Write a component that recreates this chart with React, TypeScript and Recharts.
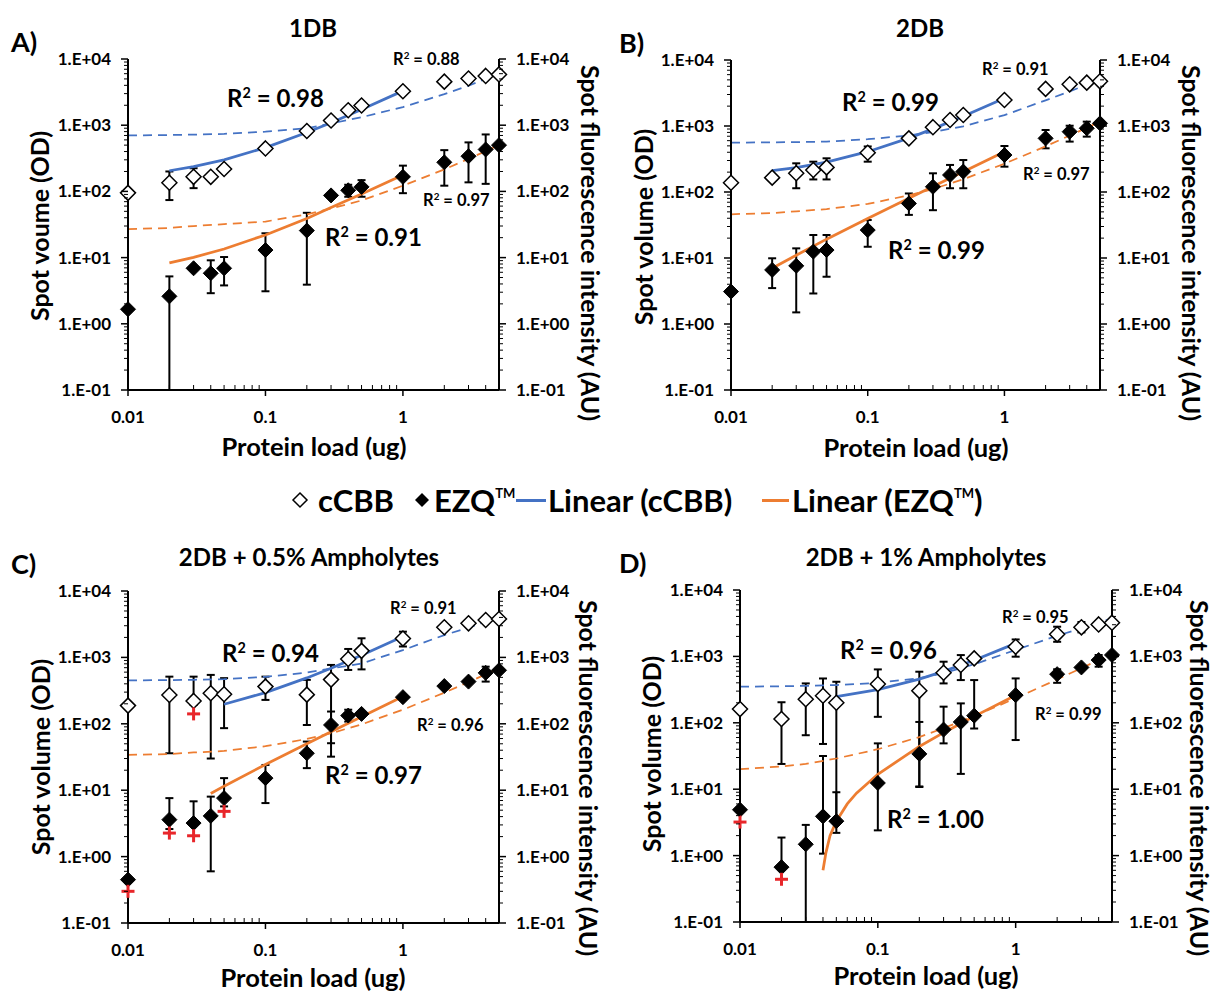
import React from 'react';
import { ComposedChart, Scatter, Line, XAxis, YAxis, ErrorBar } from 'recharts';

const FONT = "Lato, 'Open Sans', sans-serif";
const BLUE = '#4472C4';
const ORANGE = '#ED7D31';

// protein load (ug) for every spot series
const LOAD = [0.01, 0.02, 0.03, 0.04, 0.05, 0.1, 0.2, 0.3, 0.4, 0.5, 1, 2, 3, 4, 5];

// ---- A) 1DB
const A_CBB = [95, 135, 166, 166, 218, 446, 816, 1180, 1680, 1980, 3250, 4550, 5080, 5550, 5850];
const A_CBB_LO = [95, 74, 112, 166, 218, 446, 816, 1180, 1680, 1980, 3250, 4550, 5080, 5550, 5850];
const A_CBB_HI = [95, 200, 224, 166, 218, 446, 816, 1180, 1680, 1980, 3250, 4550, 5080, 5550, 5850];
const A_EZQ = [1.66, 2.6, 6.9, 5.8, 6.9, 13, 25.6, 87, 104, 117, 166, 275, 340, 430, 500];
const A_EZQ_LO = [1.66, 0.1, 6.9, 2.9, 3.8, 3.1, 3.9, 87, 83, 83, 94, 122, 137, 130, 500];
const A_EZQ_HI = [1.66, 5.2, 6.9, 9.1, 10.2, 23.3, 47.5, 87, 126, 148, 245, 420, 550, 725, 500];

// ---- B) 2DB
const B_CBB = [138, 165, 192, 215, 236, 394, 650, 960, 1233, 1468, 2478, 3650, 4280, 4540, 4750];
const B_CBB_LO = [138, 165, 114, 155, 155, 288, 650, 960, 1233, 1468, 2478, 3650, 4280, 4540, 4750];
const B_CBB_HI = [138, 165, 272, 288, 324, 490, 650, 960, 1233, 1468, 2478, 3650, 4280, 4540, 4750];
const B_EZQ = [3.1, 6.6, 7.6, 12.5, 13.2, 26.5, 67, 120, 181, 204, 363, 650, 820, 923, 1097];
const B_EZQ_LO = [3.1, 3.5, 1.5, 2.9, 5.2, 14.8, 45, 53, 114, 114, 242, 459, 580, 690, 1097];
const B_EZQ_HI = [3.1, 9.9, 14, 22.3, 22.3, 37.6, 95, 192, 257, 305, 498, 870, 1010, 1164, 1097];

// ---- C) 2DB + 0.5% Ampholytes
const C_CBB = [188, 272, 221, 288, 279, 363, 275, 463, 948, 1255, 1920, 2840, 3260, 3650, 3780];
const C_CBB_LO = [188, 36, 193, 30, 86, 229, 96, 32, 647, 660, 1460, 2840, 3260, 3650, 3780];
const C_CBB_HI = [188, 513, 513, 545, 487, 513, 459, 770, 1340, 1940, 2440, 2840, 3260, 3650, 3780];
const C_EZQ = [0.45, 3.6, 3.2, 4.1, 7.6, 15.2, 36, 96, 133, 141, 252, 370, 432, 585, 640];
const C_EZQ_LO = [0.45, 2.6, 3.2, 0.6, 5.7, 6.4, 21.5, 51, 108, 141, 252, 370, 432, 432, 640];
const C_EZQ_HI = [0.45, 7.6, 6.8, 8.0, 15.2, 24, 54, 153, 163, 141, 252, 370, 432, 725, 640];
const C_RED_X = [0.01, 0.02, 0.03, 0.03, 0.05];
const C_RED = [0.3, 2.26, 2.06, 141, 4.8];

// ---- D) 2DB + 1% Ampholytes
const D_CBB = [161, 114, 227, 255, 200, 383, 303, 567, 741, 933, 1400, 2150, 2740, 3030, 3220];
const D_CBB_LO = [161, 24, 65, 48, 3.4, 123, 11, 392, 440, 933, 990, 1660, 2300, 3030, 3220];
const D_CBB_HI = [161, 204, 392, 465, 415, 637, 588, 832, 1047, 933, 1800, 2800, 3300, 3030, 3220];
const D_EZQ = [4.9, 0.67, 1.48, 3.9, 3.3, 12.4, 34, 79, 103, 128, 261, 540, 682, 881, 1050];
const D_EZQ_LO = [4.9, 0.67, 0.1, 1.07, 2.2, 2.4, 10.8, 49, 17, 82, 55, 400, 682, 700, 1050];
const D_EZQ_HI = [4.9, 1.87, 2.9, 31.6, 9, 49, 103, 175, 196, 440, 466, 640, 682, 1050, 1050];
const D_RED_X = [0.01, 0.02];
const D_RED = [3.2, 0.44];

// ---- trendlines (dashed: all loads, solid: up to 1 ug)
const DASH_X = [0.01, 0.02, 0.03, 0.05, 0.1, 0.2, 0.3, 0.5, 1, 2, 3, 4, 5];
const A_BLUE_DASH = [700, 710, 720, 740, 800, 900, 1060, 1320, 1880, 2950, 3950, 5000, 6000];
const A_ORANGE_DASH = [27, 28, 30, 32, 35, 45, 55, 73, 122, 215, 310, 405, 500];
const B_BLUE_DASH = [560, 565, 570, 580, 630, 720, 810, 990, 1460, 2450, 3350, 4200, 5000];
const B_ORANGE_DASH = [46, 48, 51, 55, 66, 89, 111, 156, 268, 492, 716, 940, 1164];
const C_BLUE_DASH = [450, 455, 460, 470, 510, 590, 680, 810, 1290, 2170, 2800, 3450, 4100];
const C_ORANGE_DASH = [34, 35, 37, 39, 46, 59, 72, 98, 163, 294, 425, 556, 686];
const D_BLUE_DASH = [350, 355, 360, 370, 400, 470, 560, 760, 1250, 2050, 2650, 3200, 3750];
const D_ORANGE_DASH = [20, 22, 24, 29, 40, 61, 83, 126, 234, 450, 666, 882, 1100];

const SOLID_X = [0.02, 0.03, 0.05, 0.1, 0.2, 0.3, 0.5, 1];
const A_BLUE_SOLID = [205, 237, 300, 458, 774, 1090, 1720, 3300];
const A_ORANGE_SOLID = [8.3, 10.1, 13.5, 22, 39, 57, 91, 177];
const B_BLUE_SOLID = [210, 234, 284, 408, 656, 904, 1400, 2640];
const B_ORANGE_SOLID = [7.0, 11, 19.3, 39.7, 80.6, 121, 203, 408];
const C_BLUE_X = [0.05, 0.1, 0.2, 0.3, 0.5, 1];
const C_BLUE_SOLID = [197, 295, 491, 687, 1080, 2060];
const C_ORANGE_X = [0.04, 0.05, 0.1, 0.2, 0.3, 0.5, 1];
const C_ORANGE_SOLID = [8.9, 11.5, 24.4, 50, 76, 128, 257];
const D_BLUE_X = [0.05, 0.1, 0.2, 0.3, 0.5, 1];
const D_BLUE_SOLID = [247, 316, 455, 595, 873, 1570];
const D_ORANGE_X = [0.04, 0.042, 0.045, 0.05, 0.06, 0.07, 0.1, 0.2, 0.3, 0.5, 1];
const D_ORANGE_SOLID = [0.6, 1.1, 2.0, 3.3, 6.0, 8.7, 16.8, 44, 71, 125, 260];

// axis ticks
const X_MAJOR = [0.01, 0.1, 1];
const X_MINOR = [0.02, 0.03, 0.04, 0.05, 0.06, 0.07, 0.08, 0.09, 0.2, 0.3, 0.4, 0.5, 0.6, 0.7, 0.8, 0.9, 2, 3, 4, 5];
const Y_MAJOR = [0.1, 1, 10, 100, 1000, 10000];
const Y_MULT = [2, 3, 4, 5, 6, 7, 8, 9];
const Y_MINOR = Y_MAJOR.slice(0, -1).flatMap((m) => Y_MULT.map((k) => m * k));
const X_TICKS = [...X_MAJOR, ...X_MINOR].sort((a, b) => a - b);
const Y_TICKS = [...Y_MAJOR, ...Y_MINOR].sort((a, b) => a - b);

const isMajor = (v: number) => Math.abs(Math.log10(v) - Math.round(Math.log10(v))) < 1e-6;
const sci = (v: number) => {
  const e = Math.round(Math.log10(v));
  return `1.E${e < 0 ? '-' : '+'}${String(Math.abs(e)).padStart(2, '0')}`;
};

const points = (xs: number[], ys: number[]) => xs.map((x, i) => ({ x, y: ys[i] }));
const withErr = (ys: number[], lo: number[], hi: number[]) =>
  LOAD.map((x, i) => ({ x, y: ys[i], err: [ys[i] - lo[i], hi[i] - ys[i]] }));

const TICK_FS = 17;

const LeftTick = ({ x, y, payload }: any) => {
  const major = isMajor(payload.value);
  return (
    <g>
      <line x1={x - (major ? 7 : 4)} x2={x} y1={y} y2={y} stroke="#000" strokeWidth={major ? 1.5 : 1} />
      {major && (
        <text x={x - 17} y={y} dy={6} textAnchor="end" fontSize={TICK_FS} fontWeight={700} fontFamily={FONT} fill="#000">
          {sci(payload.value)}
        </text>
      )}
    </g>
  );
};

const RightTick = ({ x, y, payload }: any) => {
  const major = isMajor(payload.value);
  return (
    <g>
      <line x1={x} x2={x + (major ? 7 : 4)} y1={y} y2={y} stroke="#000" strokeWidth={major ? 1.5 : 1} />
      {major && (
        <text x={x + 17} y={y} dy={6} textAnchor="start" fontSize={TICK_FS} fontWeight={700} fontFamily={FONT} fill="#000">
          {sci(payload.value)}
        </text>
      )}
    </g>
  );
};

const BottomTick = ({ x, y, payload }: any) => {
  const major = X_MAJOR.includes(payload.value);
  return (
    <g>
      {major ? (
        <line x1={x} x2={x} y1={y} y2={y + 6} stroke="#000" strokeWidth={1.5} />
      ) : (
        <line x1={x} x2={x} y1={y - 5} y2={y} stroke="#000" strokeWidth={1} />
      )}
      {major && (
        <text x={x} y={y + 33} textAnchor="middle" fontSize={TICK_FS} fontWeight={700} fontFamily={FONT} fill="#000">
          {String(payload.value)}
        </text>
      )}
    </g>
  );
};

const OpenDiamond = ({ cx, cy }: any) => (
  <polygon points={`${cx},${cy - 7.5} ${cx + 7.5},${cy} ${cx},${cy + 7.5} ${cx - 7.5},${cy}`} fill="#fff" stroke="#000" strokeWidth={1.5} />
);
const FilledDiamond = ({ cx, cy }: any) => (
  <polygon points={`${cx},${cy - 7.5} ${cx + 7.5},${cy} ${cx},${cy + 7.5} ${cx - 7.5},${cy}`} fill="#000" stroke="#000" strokeWidth={1} />
);
const RedCross = ({ cx, cy }: any) => (
  <g stroke="#E8262A" strokeWidth={3}>
    <line x1={cx - 6.5} x2={cx + 6.5} y1={cy} y2={cy} />
    <line x1={cx} x2={cx} y1={cy - 6.5} y2={cy + 6.5} />
  </g>
);

type Rect = { l: number; t: number; r: number; b: number };

type PanelProps = {
  rect: Rect;
  cbb: any[];
  ezq: any[];
  blueDash: any[];
  orangeDash: any[];
  blueSolid: any[];
  orangeSolid: any[];
  red?: any[];
};

const axisLine = { stroke: '#000', strokeWidth: 2 };

function Panel({ rect, cbb, ezq, blueDash, orangeDash, blueSolid, orangeSolid, red }: PanelProps) {
  const W = rect.r - rect.l;
  const H = rect.b - rect.t;
  return (
    <div style={{ position: 'absolute', left: rect.l - 78, top: rect.t - 10 }}>
      <ComposedChart width={W + 156} height={H + 60} margin={{ top: 10, right: 10, bottom: 10, left: 10 }}>
        <XAxis
          dataKey="x"
          type="number"
          scale="log"
          domain={[0.01, 5]}
          ticks={X_TICKS}
          interval={0}
          tick={<BottomTick />}
          tickLine={false}
          tickSize={0}
          tickMargin={0}
          axisLine={axisLine}
          height={40}
        />
        <YAxis
          dataKey="y"
          type="number"
          scale="log"
          domain={[0.1, 10000]}
          ticks={Y_TICKS}
          interval={0}
          tick={<LeftTick />}
          tickLine={false}
          tickSize={0}
          tickMargin={0}
          axisLine={axisLine}
          width={68}
        />
        <YAxis
          yAxisId="right"
          orientation="right"
          dataKey="y"
          type="number"
          scale="log"
          domain={[0.1, 10000]}
          allowDataOverflow
          ticks={Y_TICKS}
          interval={0}
          tick={<RightTick />}
          tickLine={false}
          tickSize={0}
          tickMargin={0}
          axisLine={axisLine}
          width={68}
        />
        <Scatter data={cbb} dataKey="y" shape={<OpenDiamond />} isAnimationActive={false}>
          <ErrorBar dataKey="err" direction="y" width={4} strokeWidth={2} stroke="#000" />
        </Scatter>
        <Scatter data={ezq} dataKey="y" shape={<FilledDiamond />} isAnimationActive={false}>
          <ErrorBar dataKey="err" direction="y" width={4} strokeWidth={2} stroke="#000" />
        </Scatter>
        {red && <Scatter data={red} dataKey="y" shape={<RedCross />} isAnimationActive={false} />}
        <Line data={blueDash} dataKey="y" type="linear" stroke={BLUE} strokeWidth={1.75} strokeDasharray="9 6" dot={false} isAnimationActive={false} />
        <Line data={orangeDash} dataKey="y" type="linear" stroke={ORANGE} strokeWidth={1.75} strokeDasharray="9 6" dot={false} isAnimationActive={false} />
        <Line data={blueSolid} dataKey="y" type="linear" stroke={BLUE} strokeWidth={2.75} dot={false} isAnimationActive={false} />
        <Line data={orangeSolid} dataKey="y" type="linear" stroke={ORANGE} strokeWidth={2.75} dot={false} isAnimationActive={false} />
      </ComposedChart>
    </div>
  );
}

const PANELS = [
  {
    key: 'A',
    rect: { l: 128, t: 59, r: 499, b: 390 },
    cbb: withErr(A_CBB, A_CBB_LO, A_CBB_HI),
    ezq: withErr(A_EZQ, A_EZQ_LO, A_EZQ_HI),
    blueDash: points(DASH_X, A_BLUE_DASH),
    orangeDash: points(DASH_X, A_ORANGE_DASH),
    blueSolid: points(SOLID_X, A_BLUE_SOLID),
    orangeSolid: points(SOLID_X, A_ORANGE_SOLID),
  },
  {
    key: 'B',
    rect: { l: 731, t: 60, r: 1100, b: 390 },
    cbb: withErr(B_CBB, B_CBB_LO, B_CBB_HI),
    ezq: withErr(B_EZQ, B_EZQ_LO, B_EZQ_HI),
    blueDash: points(DASH_X, B_BLUE_DASH),
    orangeDash: points(DASH_X, B_ORANGE_DASH),
    blueSolid: points(SOLID_X, B_BLUE_SOLID),
    orangeSolid: points(SOLID_X, B_ORANGE_SOLID),
  },
  {
    key: 'C',
    rect: { l: 128, t: 591, r: 499, b: 923 },
    cbb: withErr(C_CBB, C_CBB_LO, C_CBB_HI),
    ezq: withErr(C_EZQ, C_EZQ_LO, C_EZQ_HI),
    blueDash: points(DASH_X, C_BLUE_DASH),
    orangeDash: points(DASH_X, C_ORANGE_DASH),
    blueSolid: points(C_BLUE_X, C_BLUE_SOLID),
    orangeSolid: points(C_ORANGE_X, C_ORANGE_SOLID),
    red: points(C_RED_X, C_RED),
  },
  {
    key: 'D',
    rect: { l: 740, t: 590, r: 1112, b: 922 },
    cbb: withErr(D_CBB, D_CBB_LO, D_CBB_HI),
    ezq: withErr(D_EZQ, D_EZQ_LO, D_EZQ_HI),
    blueDash: points(DASH_X, D_BLUE_DASH),
    orangeDash: points(DASH_X, D_ORANGE_DASH),
    blueSolid: points(D_BLUE_X, D_BLUE_SOLID),
    orangeSolid: points(D_ORANGE_X, D_ORANGE_SOLID),
    red: points(D_RED_X, D_RED),
  },
];

// text placed around the panels: [text, x, y, fontSize, align]
const TEXTS: [string, number, number, number, string][] = [
  ['A)', 11, 41, 27, 'left'],
  ['B)', 619, 42, 27, 'left'],
  ['C)', 11, 563, 27, 'left'],
  ['D)', 619, 562, 27, 'left'],
  ['1DB', 313, 28, 24, 'center'],
  ['2DB', 920, 28, 24, 'center'],
  ['2DB + 0.5% Ampholytes', 309, 557, 24, 'center'],
  ['2DB + 1% Ampholytes', 926, 557, 24, 'center'],
  ['Protein load (ug)', 314, 447, 25.5, 'center'],
  ['Protein load (ug)', 916, 448, 25.5, 'center'],
  ['Protein load (ug)', 313, 978, 25.5, 'center'],
  ['Protein load (ug)', 926, 976, 25.5, 'center'],
];

// vertical axis titles: [text, centerX, centerY, rotation]
const VTEXTS: [string, number, number, number][] = [
  ['Spot voume (OD)', 39, 226, -90],
  ['Spot fluorescence intensity (AU)', 590, 243, 90],
  ['Spot volume (OD)', 643, 227, -90],
  ['Spot fluorescence intensity (AU)', 1191, 243, 90],
  ['Spot volume (OD)', 40, 757, -90],
  ['Spot fluorescence intensity (AU)', 588, 778, 90],
  ['Spot volume (OD)', 651, 754, -90],
  ['Spot fluorescence intensity (AU)', 1199, 778, 90],
];

// R² labels: [value, left, centerY, big]
const R2_LABELS: [string, number, number, boolean][] = [
  ['0.98', 227, 98, true],
  ['0.88', 393, 59, false],
  ['0.97', 423, 200, false],
  ['0.91', 325, 237, true],
  ['0.99', 842, 102, true],
  ['0.91', 982, 69, false],
  ['0.97', 1023, 174, false],
  ['0.99', 888, 250, true],
  ['0.94', 222, 653, true],
  ['0.91', 390, 608, false],
  ['0.96', 417, 725, false],
  ['0.97', 325, 775, true],
  ['0.96', 840, 650, true],
  ['0.95', 1002, 617, false],
  ['0.99', 1035, 714, false],
  ['1.00', 887, 819, true],
];

const base: React.CSSProperties = {
  position: 'absolute',
  fontFamily: FONT,
  fontWeight: 700,
  color: '#000',
  whiteSpace: 'nowrap',
  lineHeight: 1,
};

const LEG_FS = 31;
const tm = <span style={{ fontSize: '0.42em', verticalAlign: '1em' }}>TM</span>;

export default function App() {
  return (
    <div style={{ position: 'absolute', left: 0, top: 0, width: 1214, height: 992, background: '#fff', overflow: 'hidden' }}>
      {PANELS.map((p) => (
        <Panel key={p.key} {...p} />
      ))}
      {TEXTS.map(([t, x, y, fs, align], i) => (
        <div
          key={`t${i}`}
          style={{
            ...base,
            left: x,
            top: y,
            fontSize: fs,
            transform: align === 'center' ? 'translate(-50%, -50%)' : 'translateY(-50%)',
          }}
        >
          {t}
        </div>
      ))}
      {VTEXTS.map(([t, x, y, rot], i) => (
        <div
          key={`v${i}`}
          style={{ ...base, left: x, top: y, fontSize: 25, transform: `translate(-50%, -50%) rotate(${rot}deg)` }}
        >
          {t}
        </div>
      ))}
      {R2_LABELS.map(([v, x, y, big], i) => (
        <div key={`r${i}`} style={{ ...base, left: x, top: y, fontSize: big ? 24 : 16.5, transform: 'translateY(-50%)' }}>
          R<span style={{ fontSize: '0.6em', verticalAlign: '0.6em' }}>2</span> = {v}
        </div>
      ))}
      {/* shared legend */}
      <svg style={{ position: 'absolute', left: 291, top: 491 }} width={18} height={18}>
        <polygon points="9,2 16,9 9,16 2,9" fill="#fff" stroke="#000" strokeWidth={1.5} />
      </svg>
      <div style={{ ...base, left: 394, top: 500, fontSize: LEG_FS, transform: 'translate(-100%, -50%)' }}>cCBB</div>
      <svg style={{ position: 'absolute', left: 413, top: 491 }} width={18} height={18}>
        <polygon points="9,2 16,9 9,16 2,9" fill="#000" />
      </svg>
      <div style={{ ...base, left: 434, top: 500, fontSize: LEG_FS, transform: 'translateY(-50%)' }}>EZQ{tm}</div>
      <div style={{ position: 'absolute', left: 516, top: 499, width: 30, height: 3, background: BLUE }} />
      <div style={{ ...base, left: 548, top: 500, fontSize: LEG_FS, transform: 'translateY(-50%)' }}>Linear (cCBB)</div>
      <div style={{ position: 'absolute', left: 762, top: 499, width: 27, height: 3, background: ORANGE }} />
      <div style={{ ...base, left: 792, top: 500, fontSize: LEG_FS, transform: 'translateY(-50%)' }}>Linear (EZQ{tm})</div>
    </div>
  );
}
